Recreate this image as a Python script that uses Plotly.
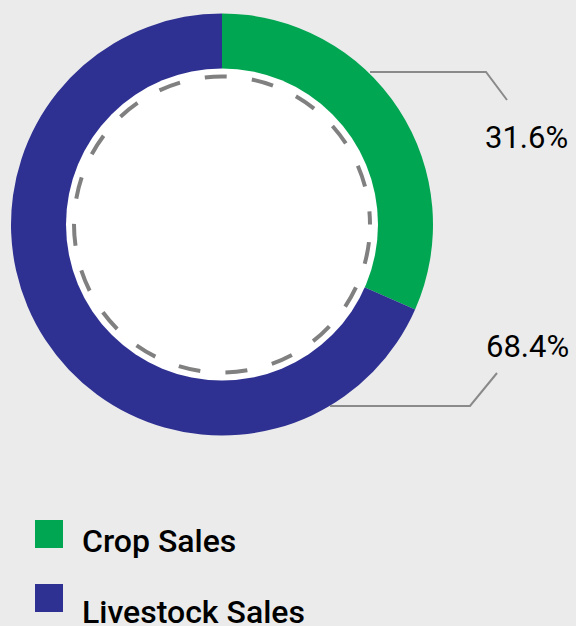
import plotly.graph_objects as go

# ---- data ----
categories = ["Crop Sales", "Livestock Sales"]
values = [31.6, 68.4]
value_labels = ["31.6%", "68.4%"]
colors = ["#00a651", "#2e3192"]

W, H = 576, 626
BG = "#ebebeb"

def px(x):
    return x / W

def py(y):
    return 1 - y / H

# donut geometry (pixels)
cx, cy, R = 222, 224.5, 211
r_in = 156

fig = go.Figure()
fig.add_trace(go.Pie(
    labels=categories,
    values=values,
    marker=dict(colors=colors, line=dict(width=0)),
    hole=0.72,
    sort=False,
    direction="clockwise",
    rotation=0,
    textinfo="none",
    hoverinfo="label+percent",
    showlegend=False,
    domain=dict(x=[px(cx - R), px(cx + R)], y=[py(cy + R), py(cy - R)]),
))

shapes = []
# inner white disc
shapes.append(dict(type="circle", xref="paper", yref="paper",
                   x0=px(cx - r_in), x1=px(cx + r_in), y0=py(cy + r_in), y1=py(cy - r_in),
                   fillcolor="#ffffff", line=dict(width=0)))
# dashed circle
rd = 148
shapes.append(dict(type="circle", xref="paper", yref="paper",
                   x0=px(cx - rd), x1=px(cx + rd), y0=py(cy + rd), y1=py(cy - rd),
                   line=dict(color="#808080", width=4, dash="0px,17.7px,22px,7.6px")))

# leader lines
leader_color = "#8a8a8a"
leaders = [
    [(370, 72), (486, 72), (507, 100)],
    [(330, 406), (470, 406), (497, 373)],
]
for pts in leaders:
    path = "M " + " L ".join(f"{px(x)},{py(y)}" for x, y in pts)
    shapes.append(dict(type="path", xref="paper", yref="paper", path=path,
                       line=dict(color=leader_color, width=2)))

annotations = []
label_pos = [(570, 138), (571, 346)]
for (x, y), t in zip(label_pos, value_labels):
    annotations.append(dict(x=px(x), y=py(y), xref="paper", yref="paper",
                            text=t, showarrow=False, xanchor="right", yanchor="middle",
                            font=dict(family="Roboto", size=31, color="#000000")))

# manual legend
leg_sq = [534, 598]
leg_txt = [541, 612]
for name, col, ys, yt in zip(categories, colors, leg_sq, leg_txt):
    shapes.append(dict(type="rect", xref="paper", yref="paper",
                       x0=px(35), x1=px(63), y0=py(ys + 14), y1=py(ys - 14),
                       fillcolor=col, line=dict(width=0)))
    annotations.append(dict(x=px(80), y=py(yt), xref="paper", yref="paper",
                            text=name, showarrow=False, xanchor="left", yanchor="middle",
                            font=dict(family="Roboto", size=32, color="#000000", weight=500)))

fig.update_layout(
    width=W, height=H,
    margin=dict(l=0, r=0, t=0, b=0),
    paper_bgcolor=BG, plot_bgcolor=BG,
    shapes=shapes, annotations=annotations,
    showlegend=False,
)

fig.write_html("out.html", config={"displayModeBar": False})
